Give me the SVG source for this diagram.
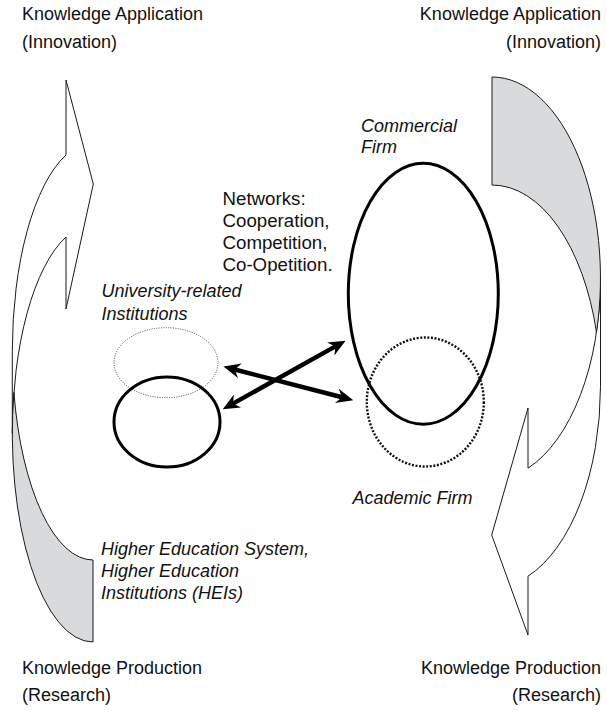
<svg xmlns="http://www.w3.org/2000/svg" width="607" height="711" viewBox="0 0 607 711">
  <style>
    .lbl { font-family: "Liberation Sans", Arial, sans-serif; font-size: 18px; fill: #111; }
    .net { font-size: 18.7px; }
    .it { font-style: italic; }
    .band { fill: #ffffff; stroke: #1a1a1a; stroke-width: 1; stroke-linejoin: miter; }
    .back { fill: #d9dadb; stroke: #1a1a1a; stroke-width: 1; }
    .solid { fill: none; stroke: #000; stroke-width: 3; }
    .dotfine { fill: none; stroke: #444; stroke-width: 1; stroke-dasharray: 1 1.4; }
    .dotbold { fill: none; stroke: #111; stroke-width: 2.4; stroke-dasharray: 2 1.6; }
    .link { fill: none; stroke: #000; stroke-width: 4.5; }
  </style>
  <defs>
    <marker id="head" viewBox="0 0 16 14" refX="6" refY="7" markerWidth="17" markerHeight="15" markerUnits="userSpaceOnUse" orient="auto-start-reverse">
      <path d="M0,0 L16,7 L0,14 L5,7 Z" fill="#000"/>
    </marker>
  </defs>

  <rect width="607" height="711" fill="#ffffff"/>

  <!-- Left cycle arrow: research rising to innovation -->
  <g id="cycle-left">
    <path class="band" d="M12.3,433.5 A80.7,208.5 0 0 1 66,237 L66,309 L93.3,184 L66,80 L66,155 A80.7,208.5 0 0 0 12.3,351.5 Z"/>
    <path class="back" d="M93,560 A80.7,208.5 0 0 1 13.9,392.5 A80.7,208.5 0 0 0 93,642 Z"/>
  </g>

  <!-- Right cycle arrow: innovation returning to research -->
  <g id="cycle-right">
    <path class="band" d="M600.5,278.3 A108.5,201.3 0 0 1 528,468.2 L528,408 L491.7,535 L528,635 L528,576.2 A108.5,201.3 0 0 0 600.5,386.3 Z"/>
    <path class="back" d="M492,185 A108.5,201.3 0 0 1 596.5,332.3 A108.5,201.3 0 0 0 492,77 Z"/>
  </g>

  <!-- Corner captions -->
  <g id="caption-application-left">
    <text class="lbl" x="22" y="20">Knowledge Application</text>
    <text class="lbl" x="22" y="47.5">(Innovation)</text>
  </g>
  <g id="caption-application-right">
    <text class="lbl" x="601" y="20" text-anchor="end">Knowledge Application</text>
    <text class="lbl" x="601" y="47.5" text-anchor="end">(Innovation)</text>
  </g>
  <g id="caption-production-left">
    <text class="lbl" x="22" y="674">Knowledge Production</text>
    <text class="lbl" x="22" y="701">(Research)</text>
  </g>
  <g id="caption-production-right">
    <text class="lbl" x="601" y="674" text-anchor="end">Knowledge Production</text>
    <text class="lbl" x="601" y="701" text-anchor="end">(Research)</text>
  </g>

  <!-- Network note -->
  <g id="networks">
    <text class="lbl net" x="222.5" y="205">Networks:</text>
    <text class="lbl net" x="222.5" y="227">Cooperation,</text>
    <text class="lbl net" x="222.5" y="249">Competition,</text>
    <text class="lbl net" x="222.5" y="271">Co-Opetition.</text>
  </g>

  <!-- Actors -->
  <g id="university-related">
    <ellipse class="dotfine" cx="166" cy="362.7" rx="52" ry="35"/>
    <text class="lbl it" x="101.5" y="297">University-related</text>
    <text class="lbl it" x="101.5" y="319.5">Institutions</text>
  </g>
  <g id="higher-education">
    <ellipse class="solid" cx="167" cy="422" rx="53" ry="45"/>
    <text class="lbl it" x="101" y="555">Higher Education System,</text>
    <text class="lbl it" x="101" y="577">Higher Education</text>
    <text class="lbl it" x="101" y="599">Institutions (HEIs)</text>
  </g>
  <g id="commercial-firm">
    <ellipse class="solid" cx="423.3" cy="293.8" rx="75" ry="130.5"/>
    <text class="lbl it" x="361" y="132">Commercial</text>
    <text class="lbl it" x="361" y="153">Firm</text>
  </g>
  <g id="academic-firm">
    <ellipse class="dotbold" cx="425.3" cy="402" rx="58.5" ry="64.5"/>
    <text class="lbl it" x="352.5" y="504">Academic Firm</text>
  </g>

  <!-- Two-way links between the actors -->
  <g id="connectors">
    <line class="link" x1="233.7" y1="369.2" x2="343.0" y2="397.5" marker-start="url(#head)" marker-end="url(#head)"/>
    <line class="link" x1="232.0" y1="404.1" x2="336.3" y2="345.9" marker-start="url(#head)" marker-end="url(#head)"/>
  </g>
</svg>
